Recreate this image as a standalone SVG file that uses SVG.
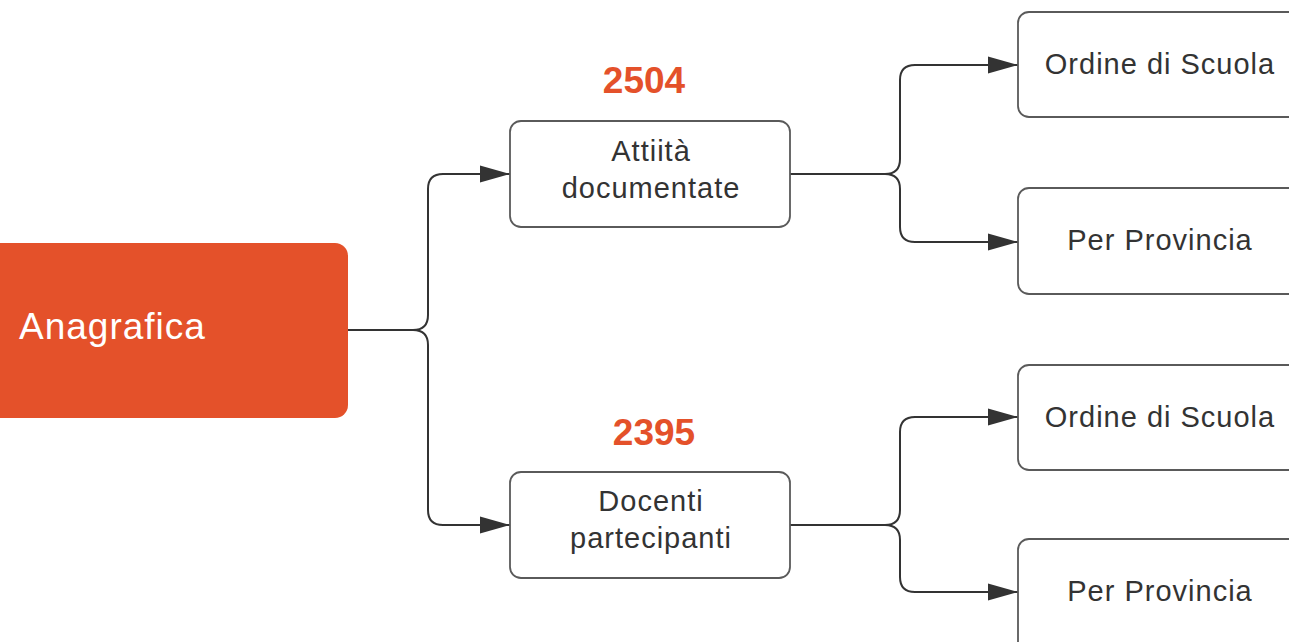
<svg xmlns="http://www.w3.org/2000/svg" width="1289" height="642" viewBox="0 0 1289 642">
<style>
.box{fill:#fff;stroke:#5a5a5a;stroke-width:1.8}
.lbl{font-family:"Liberation Sans",Arial,sans-serif;font-size:29px;fill:#333;text-anchor:middle;letter-spacing:1px}
.num{font-family:"Liberation Sans",Arial,sans-serif;font-size:37px;font-weight:bold;fill:#E4512A;text-anchor:middle}
.con{fill:none;stroke:#333;stroke-width:2}
</style>
<defs>
<marker id="arr" markerUnits="userSpaceOnUse" markerWidth="30" markerHeight="18" viewBox="0 0 28 16" refX="28" refY="8" orient="auto">
<path d="M0,0 L28,8 L0,16 Z" fill="#333"/>
</marker>
</defs>
<g id="connectors">
<path class="con" d="M348,330 H413 Q428,330 428,315 V189 Q428,174 443,174 H510" marker-end="url(#arr)"/>
<path class="con" d="M348,330 H413 Q428,330 428,345 V510 Q428,525 443,525 H510" marker-end="url(#arr)"/>
<path class="con" d="M790,174 H885 Q900,174 900,159 V80 Q900,65 915,65 H1018" marker-end="url(#arr)"/>
<path class="con" d="M790,174 H885 Q900,174 900,189 V227 Q900,242 915,242 H1018" marker-end="url(#arr)"/>
<path class="con" d="M790,525 H885 Q900,525 900,510 V432 Q900,417 915,417 H1018" marker-end="url(#arr)"/>
<path class="con" d="M790,525 H885 Q900,525 900,540 V577 Q900,592 915,592 H1018" marker-end="url(#arr)"/>
</g>
<g id="anagrafica">
<rect x="-20" y="243" width="368" height="175" rx="13" fill="#E4512A"/>
<text x="19" y="339" font-family="Liberation Sans,Arial,sans-serif" font-size="37" fill="#fff" letter-spacing="1">Anagrafica</text>
</g>
<g id="attivita">
<text class="num" x="644" y="93">2504</text>
<rect class="box" x="510" y="121" width="280" height="106" rx="11"/>
<text class="lbl" x="651" y="161">Attiità</text>
<text class="lbl" x="651" y="198">documentate</text>
</g>
<g id="docenti">
<text class="num" x="654" y="445">2395</text>
<rect class="box" x="510" y="472" width="280" height="106" rx="11"/>
<text class="lbl" x="651" y="511">Docenti</text>
<text class="lbl" x="651" y="548">partecipanti</text>
</g>
<g id="ordine1">
<rect class="box" x="1018" y="12" width="290" height="105" rx="11"/>
<text class="lbl" x="1160" y="74">Ordine di Scuola</text>
</g>
<g id="provincia1">
<rect class="box" x="1018" y="188" width="290" height="106" rx="11"/>
<text class="lbl" x="1160" y="250">Per Provincia</text>
</g>
<g id="ordine2">
<rect class="box" x="1018" y="365" width="290" height="105" rx="11"/>
<text class="lbl" x="1160" y="427">Ordine di Scuola</text>
</g>
<g id="provincia2">
<rect class="box" x="1018" y="539" width="290" height="120" rx="11"/>
<text class="lbl" x="1160" y="601">Per Provincia</text>
</g>
</svg>
